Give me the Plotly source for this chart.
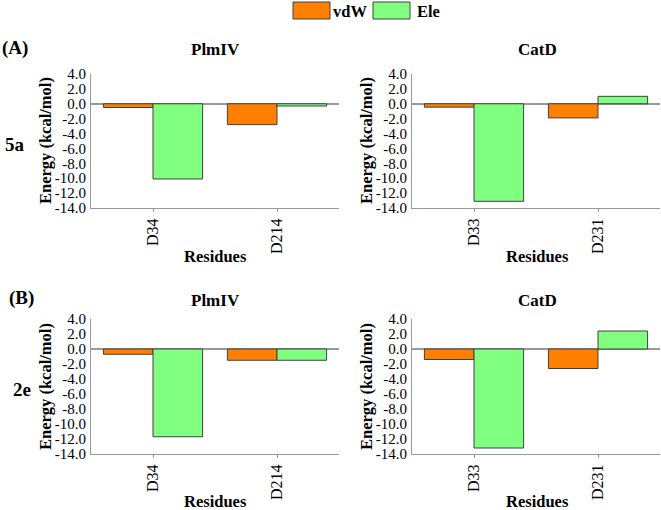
import plotly.graph_objects as go

W, H = 661, 510

series_names = ["vdW", "Ele"]
colors = {"vdW": "#FF8000", "Ele": "#80FF80"}

plm_residues = ["D34", "D214"]
cat_residues = ["D33", "D231"]

vdw_5a_plm = [-0.5, -2.8]
ele_5a_plm = [-10.1, -0.3]
vdw_5a_cat = [-0.45, -1.9]
ele_5a_cat = [-13.1, 1.0]
vdw_2e_plm = [-0.7, -1.5]
ele_2e_plm = [-11.7, -1.5]
vdw_2e_cat = [-1.4, -2.6]
ele_2e_cat = [-13.2, 2.4]

y_tickvals = [4, 2, 0, -2, -4, -6, -8, -10, -12, -14]
y_ticktext = ["4.0", "2.0", "0.0", "-2.0", "-4.0", "-6.0", "-8.0", "-10.0", "-12.0", "-14.0"]

panels = [
    ("x", "y", plm_residues, vdw_5a_plm, ele_5a_plm),
    ("x2", "y2", cat_residues, vdw_5a_cat, ele_5a_cat),
    ("x3", "y3", plm_residues, vdw_2e_plm, ele_2e_plm),
    ("x4", "y4", cat_residues, vdw_2e_cat, ele_2e_cat),
]

FONT = "Liberation Serif, Times New Roman, serif"

fig = go.Figure()
for xa, ya, res, vdw, ele in panels:
    fig.add_trace(go.Bar(x=res, y=vdw, name="vdW", xaxis=xa, yaxis=ya,
                         marker=dict(color=colors["vdW"], line=dict(color="#404040", width=1)),
                         showlegend=False))
    fig.add_trace(go.Bar(x=res, y=ele, name="Ele", xaxis=xa, yaxis=ya,
                         marker=dict(color=colors["Ele"], line=dict(color="#404040", width=1)),
                         showlegend=False))

def px_x(p):
    return p / W

def px_y(p):
    return 1 - p / H

xdom_left = [px_x(91), px_x(339)]
xdom_right = [px_x(412), px_x(660)]
ydom_top = [px_y(208), px_y(74)]
ydom_bot = [px_y(454), px_y(319)]

xtick_font = dict(family=FONT, size=16, color="black")
ytick_font = dict(family=FONT, size=15, color="black")

def xaxis_cfg(dom, anchor):
    return dict(domain=dom, anchor=anchor, type="category", range=[-0.5, 1.5],
                showline=True, linecolor="#999999", linewidth=1,
                ticks="outside", ticklen=3, tickcolor="#999999",
                tickangle=-90, tickfont=xtick_font, showgrid=False,
                automargin=False, fixedrange=True)

def yaxis_cfg(dom, anchor):
    return dict(domain=dom, anchor=anchor, range=[-14, 4],
                tickvals=y_tickvals, ticktext=y_ticktext,
                showline=True, linecolor="#999999", linewidth=1,
                ticks="", tickfont=ytick_font, showgrid=False,
                zeroline=True, zerolinecolor="#999999", zerolinewidth=1.5,
                ticklabelstandoff=1, automargin=False, fixedrange=True)

fig.update_layout(
    template="none",
    width=W, height=H, autosize=False,
    margin=dict(l=0, r=0, t=0, b=0, pad=0),
    paper_bgcolor="white", plot_bgcolor="white",
    barmode="group", bargap=0.2, bargroupgap=0,
    font=dict(family=FONT, color="black"),
    showlegend=False,
    xaxis=xaxis_cfg(xdom_left, "y"),
    yaxis=yaxis_cfg(ydom_top, "x"),
    xaxis2=xaxis_cfg(xdom_right, "y2"),
    yaxis2=yaxis_cfg(ydom_top, "x2"),
    xaxis3=xaxis_cfg(xdom_left, "y3"),
    yaxis3=yaxis_cfg(ydom_bot, "x3"),
    xaxis4=xaxis_cfg(xdom_right, "y4"),
    yaxis4=yaxis_cfg(ydom_bot, "x4"),
)

bold = lambda s: f"<b>{s}</b>"
ann = []
def add_text(text, x, y, size, angle=0):
    ann.append(dict(text=bold(text), x=px_x(x), y=px_y(y), xref="paper", yref="paper",
                    showarrow=False, textangle=angle, xanchor="center", yanchor="middle",
                    font=dict(family=FONT, size=size, color="black")))

add_text("PlmIV", 215, 50, 17)
add_text("CatD", 537, 50, 17)
add_text("PlmIV", 215, 300, 17)
add_text("CatD", 537, 300, 17)
for cx in (45, 366):
    add_text("Energy (kcal/mol)", cx, 141, 16.5, -90)
    add_text("Energy (kcal/mol)", cx, 387, 16.5, -90)
add_text("Residues", 215, 256, 16.5)
add_text("Residues", 537, 256, 16.5)
add_text("Residues", 215, 501, 16.5)
add_text("Residues", 537, 501, 16.5)
add_text("(A)", 15, 48, 19)
add_text("(B)", 21, 298, 19)
add_text("5a", 15, 144, 19)
add_text("2e", 22, 389, 19)
add_text("vdW", 350, 11, 16.5)
add_text("Ele", 428, 11, 16.5)

shapes = [
    dict(type="rect", xref="paper", yref="paper", x0=px_x(293), x1=px_x(330),
         y0=px_y(19), y1=px_y(2), fillcolor=colors["vdW"], line=dict(color="#404040", width=1)),
    dict(type="rect", xref="paper", yref="paper", x0=px_x(373), x1=px_x(410),
         y0=px_y(19), y1=px_y(2), fillcolor=colors["Ele"], line=dict(color="#404040", width=1)),
]

fig.update_layout(annotations=ann, shapes=shapes)

fig.write_html("out.html",
               config={"displayModeBar": False, "staticPlot": True},
               post_script="document.body.style.margin='0';document.body.style.overflow='hidden';")
